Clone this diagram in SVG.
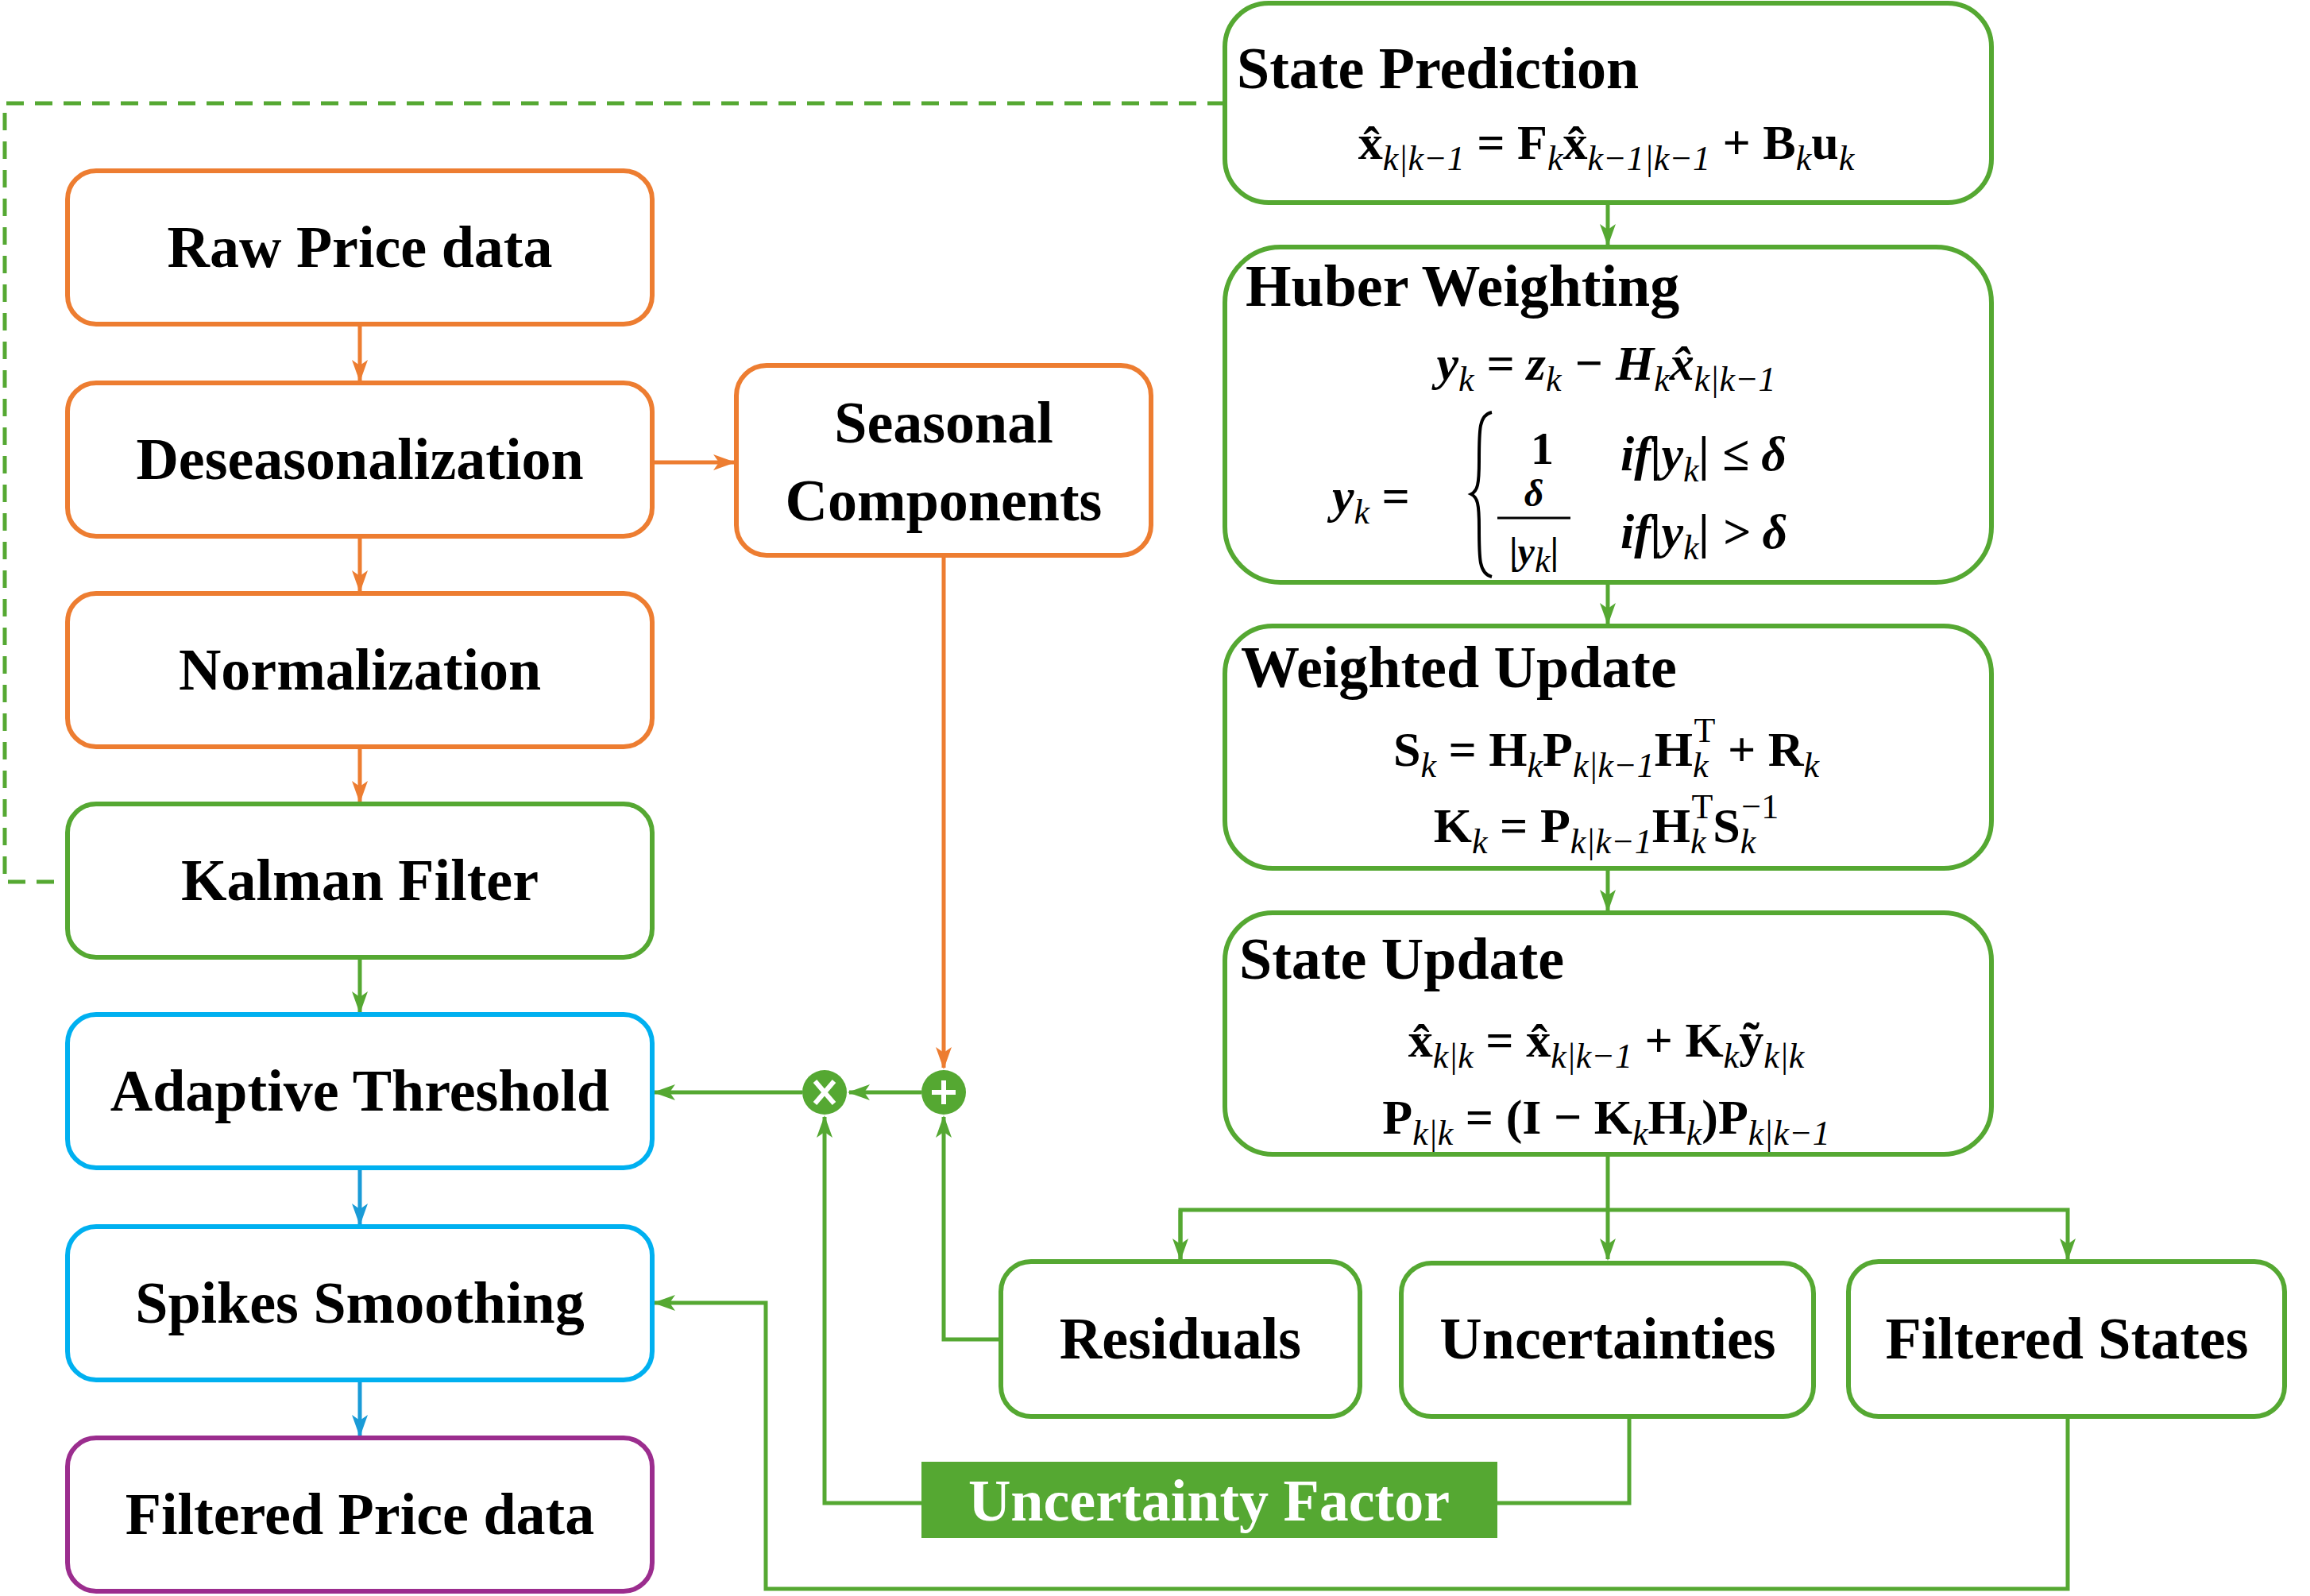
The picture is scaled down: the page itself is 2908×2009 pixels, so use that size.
<svg xmlns="http://www.w3.org/2000/svg" width="2908" height="2009" viewBox="0 0 2908 2009">
<style>
.b{fill:#fff;stroke-width:6}
.o{stroke:#ED7D31}.g{stroke:#55A832}.c{stroke:#00B0F0}.p{stroke:#9B2D8E}
text{font-family:"Liberation Serif","Times New Roman",serif;font-weight:bold;fill:#000}
.l{font-size:74px;text-anchor:middle}
.t{font-size:74px}
.f{font-size:62px;text-anchor:middle}
.s{font-size:44px;font-style:italic;font-weight:normal}
.w{fill:none;stroke-width:5}
</style>
<defs>
<marker id="ag" markerWidth="28" markerHeight="20" refX="26" refY="10" orient="auto" markerUnits="userSpaceOnUse"><path d="M0,0 L28,10 L0,20 L7,10 Z" fill="#55A832"/></marker>
<marker id="ao" markerWidth="28" markerHeight="20" refX="26" refY="10" orient="auto" markerUnits="userSpaceOnUse"><path d="M0,0 L28,10 L0,20 L7,10 Z" fill="#ED7D31"/></marker>
<marker id="ab" markerWidth="28" markerHeight="20" refX="26" refY="10" orient="auto" markerUnits="userSpaceOnUse"><path d="M0,0 L28,10 L0,20 L7,10 Z" fill="#1A9BD7"/></marker>
</defs>
<g id="connectors">
<path class="w" stroke="#ED7D31" d="M453,408 V479" marker-end="url(#ao)"/>
<path class="w" stroke="#ED7D31" d="M453,675 V744" marker-end="url(#ao)"/>
<path class="w" stroke="#ED7D31" d="M453,940 V1009" marker-end="url(#ao)"/>
<path class="w" stroke="#ED7D31" d="M821,582 H924" marker-end="url(#ao)"/>
<path class="w" stroke="#55A832" d="M453,1205 V1274" marker-end="url(#ag)"/>
<path class="w" stroke="#1A9BD7" d="M453,1470 V1541" marker-end="url(#ab)"/>
<path class="w" stroke="#1A9BD7" d="M453,1737 V1807" marker-end="url(#ab)"/>
<path class="w" stroke="#55A832" stroke-dasharray="22,14" d="M1542,130 H6 V1110 H85"/>
<path class="w" stroke="#55A832" d="M2024,255 V308" marker-end="url(#ag)"/>
<path class="w" stroke="#55A832" d="M2024,733 V785" marker-end="url(#ag)"/>
<path class="w" stroke="#55A832" d="M2024,1093 V1146" marker-end="url(#ag)"/>
<path class="w" stroke="#55A832" d="M2024,1453 V1585" marker-end="url(#ag)"/>
<path class="w" stroke="#55A832" d="M1486,1585 V1523 H2603 V1585" marker-end="url(#ag)"/>
<path class="w" stroke="#55A832" d="M1486,1523 V1585" marker-end="url(#ag)"/>
<path class="w" stroke="#ED7D31" d="M1188,699 V1344" marker-end="url(#ao)"/>
<path class="w" stroke="#55A832" d="M1160,1375 H1069" marker-end="url(#ag)"/>
<path class="w" stroke="#55A832" d="M1010,1375 H824" marker-end="url(#ag)"/>
<path class="w" stroke="#55A832" d="M1260,1686 H1188 V1406" marker-end="url(#ag)"/>
<path class="w" stroke="#55A832" d="M2051,1783 V1892 H1885"/>
<path class="w" stroke="#55A832" d="M1160,1892 H1038 V1406" marker-end="url(#ag)"/>
<path class="w" stroke="#55A832" d="M2603,1783 V2000 H964 V1640 H824" marker-end="url(#ag)"/>
</g>
<g id="raw"><rect class="b o" x="85" y="215" width="736" height="193" rx="36"/><text class="l" x="453" y="336">Raw Price data</text></g>
<g id="deseason"><rect class="b o" x="85" y="482" width="736" height="193" rx="36"/><text class="l" x="453" y="603">Deseasonalization</text></g>
<g id="norm"><rect class="b o" x="85" y="747" width="736" height="193" rx="36"/><text class="l" x="453" y="868">Normalization</text></g>
<g id="kalman"><rect class="b g" x="85" y="1012" width="736" height="193" rx="36"/><text class="l" x="453" y="1133">Kalman Filter</text></g>
<g id="adaptive"><rect class="b c" x="85" y="1277" width="736" height="193" rx="36"/><text class="l" x="453" y="1398">Adaptive Threshold</text></g>
<g id="spikes"><rect class="b c" x="85" y="1544" width="736" height="193" rx="36"/><text class="l" x="453" y="1665">Spikes Smoothing</text></g>
<g id="filtered"><rect class="b p" x="85" y="1810" width="736" height="193" rx="36"/><text class="l" x="453" y="1931">Filtered Price data</text></g>
<g id="seasonal"><rect class="b o" x="927" y="460" width="522" height="239" rx="38"/><text class="l" x="1188" y="557">Seasonal</text><text class="l" x="1188" y="655">Components</text></g>
<g id="mult"><circle cx="1038" cy="1375" r="28" fill="#55A832"/><path d="M1026,1361 L1050,1389 M1050,1361 L1026,1389" stroke="#fff" stroke-width="6"/></g>
<g id="add"><circle cx="1188" cy="1375" r="28" fill="#55A832"/><path d="M1188,1360 V1390 M1173,1375 H1203" stroke="#fff" stroke-width="6"/></g>
<g id="stateprediction"><rect class="b g" x="1542" y="4" width="965" height="251" rx="55"/>
<text class="t" x="1557" y="111">State Prediction</text>
<text class="f" x="2022" y="200">x̂<tspan class="s" baseline-shift="-14">k|k−1</tspan> =  F<tspan class="s" baseline-shift="-14">k</tspan>x̂<tspan class="s" baseline-shift="-14">k−1|k−1</tspan> + B<tspan class="s" baseline-shift="-14">k</tspan>u<tspan class="s" baseline-shift="-14">k</tspan></text></g>
<g id="huber"><rect class="b g" x="1542" y="311" width="965" height="422" rx="70"/>
<text class="t" x="1568" y="385">Huber Weighting</text>
<text class="f" x="2022" y="478" font-style="italic">y<tspan class="s" baseline-shift="-14">k</tspan> =  z<tspan class="s" baseline-shift="-14">k</tspan> − H<tspan class="s" baseline-shift="-14">k</tspan>x̂<tspan class="s" baseline-shift="-14">k|k−1</tspan></text>
<text x="1677" y="645" font-size="62" font-style="italic">y<tspan class="s" baseline-shift="-14">k</tspan><tspan font-style="normal"> =</tspan></text>
<path d="M1878,519 C1862,522 1862,540 1862,580 C1862,610 1860,618 1852,622 C1860,626 1862,634 1862,664 C1862,704 1862,722 1878,726" fill="none" stroke="#000" stroke-width="4"/>
<text x="1927" y="584" font-size="58" font-weight="normal">1</text>
<text x="1931" y="637" font-size="48" font-weight="normal" font-style="italic" text-anchor="middle">δ</text>
<line x1="1885" y1="652" x2="1977" y2="652" stroke="#000" stroke-width="3"/>
<text x="1931" y="710" font-size="48" font-weight="normal" text-anchor="middle">|<tspan font-style="italic" font-weight="bold">y</tspan><tspan class="s" font-size="32" baseline-shift="-10">k</tspan>|</text>
<text x="2040" y="592" font-size="62" font-weight="normal" font-style="italic">if|<tspan font-weight="bold">y</tspan><tspan class="s" baseline-shift="-14">k</tspan>| ≤ δ</text>
<text x="2040" y="690" font-size="62" font-weight="normal" font-style="italic">if|<tspan font-weight="bold">y</tspan><tspan class="s" baseline-shift="-14">k</tspan>| &gt; δ</text></g>
<g id="weighted"><rect class="b g" x="1542" y="788" width="965" height="305" rx="60"/>
<text class="t" x="1562" y="865">Weighted Update</text>
<text class="f" x="2022" y="964">S<tspan class="s" baseline-shift="-14">k</tspan> =  H<tspan class="s" baseline-shift="-14">k</tspan>P<tspan class="s" baseline-shift="-14">k|k−1</tspan>H<tspan class="s" baseline-shift="-14">k</tspan><tspan font-size="44" font-weight="normal" dx="-18" baseline-shift="30">T</tspan> + R<tspan class="s" baseline-shift="-14">k</tspan></text>
<text class="f" x="2022" y="1060">K<tspan class="s" baseline-shift="-14">k</tspan> = P<tspan class="s" baseline-shift="-14">k|k−1</tspan>H<tspan class="s" baseline-shift="-14">k</tspan><tspan font-size="44" font-weight="normal" dx="-18" baseline-shift="30">T</tspan>S<tspan class="s" baseline-shift="-14">k</tspan><tspan font-size="44" font-weight="normal" dx="-18" baseline-shift="30">−1</tspan></text></g>
<g id="stateupdate"><rect class="b g" x="1542" y="1149" width="965" height="304" rx="60"/>
<text class="t" x="1560" y="1232">State Update</text>
<text class="f" x="2022" y="1330">x̂<tspan class="s" baseline-shift="-14">k|k</tspan> =  x̂<tspan class="s" baseline-shift="-14">k|k−1</tspan> + K<tspan class="s" baseline-shift="-14">k</tspan>ỹ<tspan class="s" baseline-shift="-14">k|k</tspan></text>
<text class="f" x="2022" y="1427">P<tspan class="s" baseline-shift="-14">k|k</tspan> = (I − K<tspan class="s" baseline-shift="-14">k</tspan>H<tspan class="s" baseline-shift="-14">k</tspan>)P<tspan class="s" baseline-shift="-14">k|k−1</tspan></text></g>
<g id="residuals"><rect class="b g" x="1260" y="1588" width="452" height="195" rx="38"/><text class="l" x="1486" y="1710">Residuals</text></g>
<g id="uncertainties"><rect class="b g" x="1764" y="1590" width="519" height="193" rx="38"/><text class="l" x="2024" y="1710">Uncertainties</text></g>
<g id="filteredstates"><rect class="b g" x="2327" y="1588" width="549" height="195" rx="38"/><text class="l" x="2602" y="1710">Filtered States</text></g>
<g id="uncfactor"><rect x="1160" y="1840" width="725" height="96" fill="#55A832"/><text class="l" x="1522" y="1914" fill="#fff" style="fill:#fff">Uncertainty Factor</text></g>
</svg>
